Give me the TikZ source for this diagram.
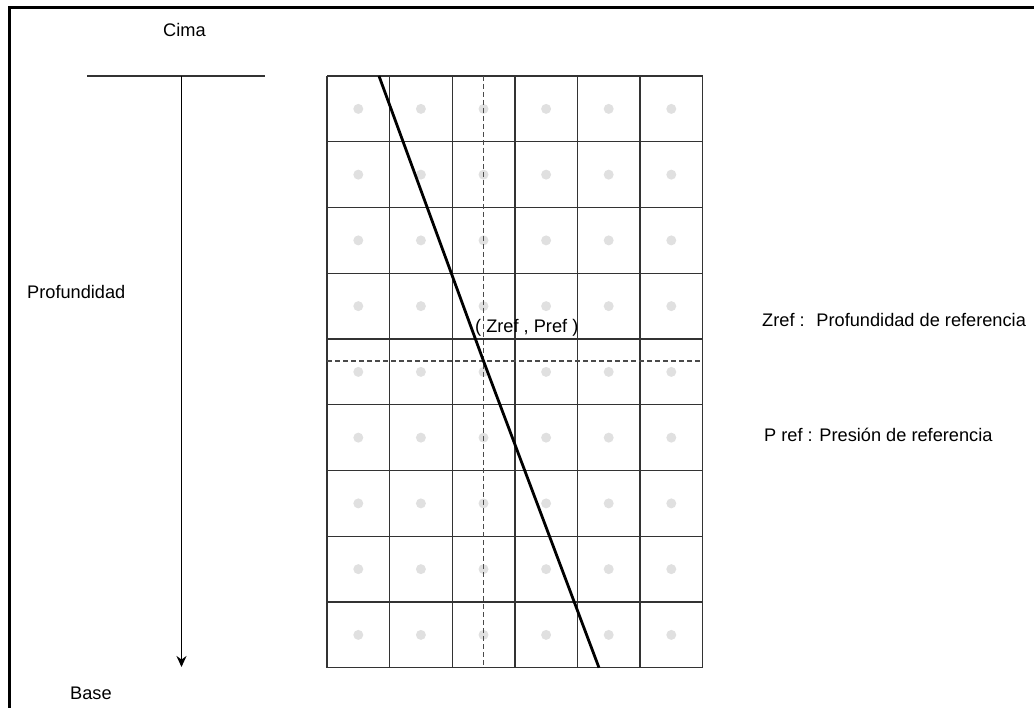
\documentclass[tikz,border=0pt]{standalone}
\usepackage{fontspec}
\setmainfont{Liberation Sans}
\usetikzlibrary{arrows.meta}
\definecolor{gridgray}{HTML}{333333}
\definecolor{dotgray}{HTML}{E0E0E0}
\definecolor{dashgray}{HTML}{4A4A4A}
\begin{document}
\begin{tikzpicture}[x=1pt,y=-1pt,
  lbl/.style={anchor=base west,inner sep=0pt,font=\fontsize{18.2}{20}\selectfont},
  celda/.style={gridgray,line width=1.4pt},
  refdash/.style={dashgray,line width=1.6pt,dash pattern=on 5pt off 3pt}]
\useasboundingbox (0,0) rectangle (1034,708);
% marco
\draw[line width=2.2pt] (9.5,708) -- (9.5,7.5) -- (1034,7.5);
% puntos de las celdas
\foreach \i in {0,...,5}
  \foreach \j in {0,...,8}
    \fill[dotgray] (358.3+62.6*\i,108.9+65.75*\j) circle (5pt);
% malla
\foreach \i in {0,...,6}
  \draw[celda] (327+62.6*\i,76) -- (327+62.6*\i,667.75);
\foreach \j in {0,...,9}
  \draw[celda] (327,76+65.75*\j) -- (702.6,76+65.75*\j);
% referencia
\coordinate (ref) at (483.5,361);
\draw[refdash] (483.5,76) -- (ref) -- (483.5,667.75);
\draw[refdash] (327,361) -- (ref) -- (702.6,361);
\coordinate (ptop) at (379,76);
\coordinate (pbot) at (599,667.75);
\draw[line width=2.8pt] (ptop) -- (ref) -- (pbot);
\node[lbl] (zp) at (475,333) {( Zref , Pref )};
% eje de profundidad
\draw[gridgray,line width=1.3pt] (87,76) -- (265,76);
\coordinate (cimaeje) at (181.5,76);
\coordinate (baseeje) at (181.5,667);
\draw[line width=1.8pt,-{Stealth[length=11pt,width=10pt]}] (cimaeje) -- (baseeje);
\node[lbl] (cima) at (163,37) {Cima};
\node[lbl] (prof) at (27,299) {Profundidad};
\node[lbl] (base) at (70,699) {Base};
% leyenda
\node[lbl] (zref) at (762,327) {Zref :~ Profundidad de referencia};
\node[lbl] (pref) at (764,442) {P ref : Presión de referencia};
\end{tikzpicture}
\end{document}
